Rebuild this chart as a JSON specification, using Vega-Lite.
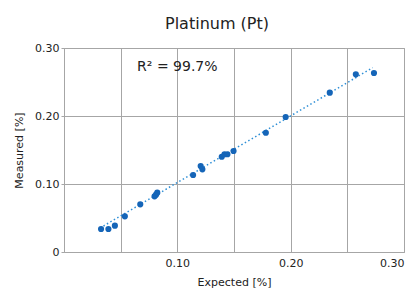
{
  "$schema": "https://vega.github.io/schema/vega-lite/v6.json",
  "width": 340,
  "height": 204,
  "autosize": "none",
  "padding": {"left": 64, "top": 48, "right": 8, "bottom": 38},
  "background": "white",
  "config": {
    "font": "DejaVu Sans",
    "view": {"stroke": "#a6a6a6"},
    "axis": {"labelFont": "DejaVu Sans", "titleFont": "DejaVu Sans", "labelColor": "#222", "titleColor": "#222", "titleFontWeight": "normal", "labelFontSize": 11, "titleFontSize": 11, "domain": false, "grid": true, "gridColor": "#a6a6a6", "gridWidth": 1, "gridOpacity": 1}
  },
  "title": {"text": "Platinum (Pt)", "fontSize": 16, "fontWeight": "normal", "color": "#222", "font": "DejaVu Sans", "dx": -17, "offset": 10},
  "datasets": {
    "pts": [
      {"expected": 0.0327, "measured": 0.0338},
      {"expected": 0.0392, "measured": 0.0338},
      {"expected": 0.0449, "measured": 0.0387},
      {"expected": 0.0537, "measured": 0.0525},
      {"expected": 0.0673, "measured": 0.0701},
      {"expected": 0.0799, "measured": 0.0819},
      {"expected": 0.0812, "measured": 0.0843},
      {"expected": 0.0823, "measured": 0.0872},
      {"expected": 0.1139, "measured": 0.1132},
      {"expected": 0.1206, "measured": 0.1265},
      {"expected": 0.1221, "measured": 0.1216},
      {"expected": 0.1392, "measured": 0.1401},
      {"expected": 0.1416, "measured": 0.1437},
      {"expected": 0.1442, "measured": 0.1437},
      {"expected": 0.1496, "measured": 0.1485},
      {"expected": 0.1781, "measured": 0.1754},
      {"expected": 0.1956, "measured": 0.1985},
      {"expected": 0.2345, "measured": 0.2343},
      {"expected": 0.2575, "measured": 0.2613},
      {"expected": 0.2735, "measured": 0.2632}
    ],
    "trend": [
      {"expected": 0.0348, "measured": 0.0382},
      {"expected": 0.2723, "measured": 0.2710}
    ],
    "label": [
      {"expected": 0.10, "measured": 0.272, "text": "R² = 99.7%"}
    ]
  },
  "layer": [
    {
      "data": {"name": "trend"},
      "mark": {"type": "line", "color": "#2e8fd6", "strokeWidth": 1.5, "strokeDash": [1.5, 2.5]},
      "encoding": {
        "x": {"field": "expected", "type": "quantitative", "scale": {"domain": [0, 0.3], "nice": false},
          "axis": {"title": "Expected [%]", "values": [0, 0.05, 0.1, 0.15, 0.2, 0.25, 0.3], "labelExpr": "datum.value == 0 || abs(datum.value*20 % 2 - 1) < 0.01 ? '' : format(datum.value, '.2f')", "ticks": false, "labelPadding": 5, "titlePadding": 8}},
        "y": {"field": "measured", "type": "quantitative", "scale": {"domain": [0, 0.3], "nice": false},
          "axis": {"title": "Measured [%]", "values": [0, 0.05, 0.1, 0.15, 0.2, 0.25, 0.3], "labelExpr": "datum.value == 0 ? '0' : abs(datum.value*20 % 2 - 1) < 0.01 ? '' : format(datum.value, '.2f')", "tickSize": 3, "tickColor": "#a6a6a6", "labelPadding": 2, "titlePadding": 10}}
      }
    },
    {
      "data": {"name": "pts"},
      "mark": {"type": "circle", "color": "#1565b8", "opacity": 1, "size": 38},
      "encoding": {
        "x": {"field": "expected", "type": "quantitative"},
        "y": {"field": "measured", "type": "quantitative"}
      }
    },
    {
      "data": {"name": "label"},
      "mark": {"type": "text", "fontSize": 14, "color": "#222", "font": "DejaVu Sans", "baseline": "middle", "align": "center"},
      "encoding": {
        "x": {"field": "expected", "type": "quantitative"},
        "y": {"field": "measured", "type": "quantitative"},
        "text": {"field": "text"}
      }
    }
  ]
}
